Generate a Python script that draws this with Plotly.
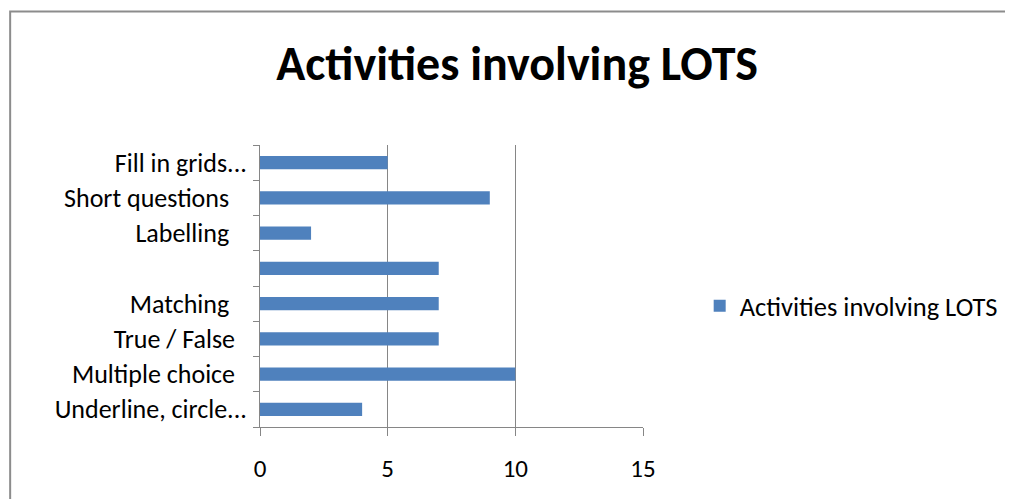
import plotly.graph_objects as go

NB = "\u00a0"
categories = ["Underline, circle...", "Multiple choice", "True / False", "Matching",
              "", "Labelling", "Short questions", "Fill in grids..."]
pad = ["", NB * 2, NB * 2, NB * 3, NB, NB * 3, NB * 3, ""]
values = [4, 10, 7, 7, 7, 2, 9, 5]
series_name = "Activities involving LOTS"
title_text = "Activities involving LOTS"

labels = [c + p if (c + p) else NB for c, p in zip(categories, pad)]

FONT = "Calibri, Carlito, Lato, sans-serif"
GRID = "#868686"
W, H = 1005, 491

fig = go.Figure()
fig.add_trace(go.Bar(
    x=values, y=labels, orientation="h", name=series_name,
    marker=dict(color="#4F81BD", line=dict(width=0)), width=0.38,
    showlegend=True,
))

fig.update_layout(
    width=W, height=H,
    margin=dict(l=252, r=W - 252 - 384, t=137, b=H - 137 - 282),
    paper_bgcolor="white", plot_bgcolor="white",
    font=dict(family=FONT, size=26, color="#000000"),
    title=dict(text="<b>" + title_text + "</b>", x=509 / W, xanchor="center",
               y=1 - 55 / H, yanchor="middle",
               font=dict(family=FONT, size=48, color="#000000")),
    showlegend=True,
    legend=dict(x=1.145, y=0.429, xanchor="left", yanchor="middle",
                font=dict(family=FONT, size=26.5, color="#000000"),
                bgcolor="rgba(0,0,0,0)"),
    xaxis=dict(range=[0, 15], dtick=5, tick0=0, showgrid=True, gridcolor=GRID, gridwidth=1,
               zeroline=False, showline=True, linecolor=GRID, linewidth=1,
               ticks="outside", ticklen=8, tickcolor=GRID, ticklabelstandoff=11,
               tickfont=dict(family=FONT, size=25, color="#000000")),
    yaxis=dict(type="category", categoryorder="array", categoryarray=labels,
               range=[-0.5, 7.5], showgrid=False, zeroline=False,
               showline=True, linecolor=GRID, linewidth=1,
               ticks="outside", ticklen=6, tickcolor=GRID, tickson="boundaries",
               ticklabelstandoff=7,
               tickfont=dict(family=FONT, size=26, color="#000000")),
    bargap=0.62,
    shapes=[dict(type="rect", xref="paper", yref="paper",
                 x0=(1.5 - 252) / 384, x1=3.0, y0=-0.6, y1=(419 - 3.5) / 282,
                 line=dict(color="#8c8c8c", width=2), fillcolor="rgba(0,0,0,0)", layer="below")],
)

fig.write_html("out.html")
